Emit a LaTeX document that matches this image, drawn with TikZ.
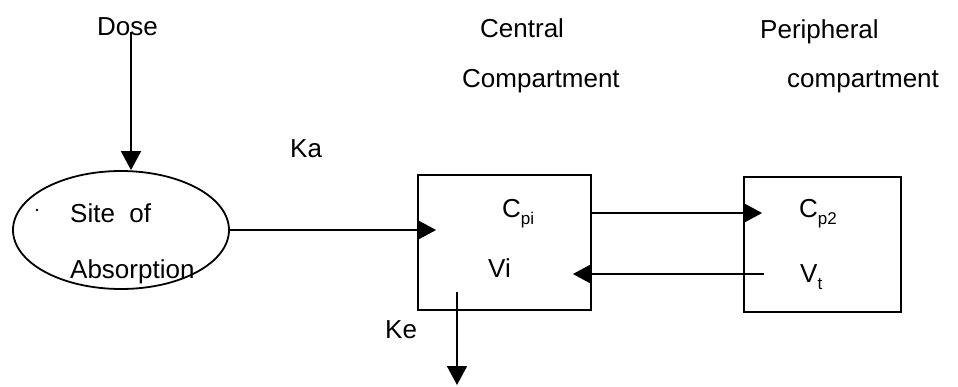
\documentclass[tikz,border=0pt]{standalone}
\usepackage{fontspec}
\setmainfont{Liberation Sans}
\usetikzlibrary{arrows.meta,shapes.geometric}
\newcommand{\lbl}{\fontsize{26}{30}\selectfont}
\newcommand{\sub}[1]{\raisebox{-7pt}{\fontsize{17}{20}\selectfont #1}}
\begin{document}
\begin{tikzpicture}[x=1pt,y=-1pt,
  txt/.style={anchor=base west,inner sep=0pt,font=\lbl},
  comp/.style={draw,line width=1.8pt,minimum width=#1},
  flow/.style={line width=1.8pt,-{Triangle[length=19pt,width=20pt]}}]
\useasboundingbox (0,0) rectangle (958,386);

% headings
\node[txt] (dose) at (97,35) {Dose};
\node[txt] (cen1) at (480,37) {Central};
\node[txt] (cen2) at (462,87) {Compartment};
\node[txt] (per1) at (760,38) {Peripheral};
\node[txt] (per2) at (787,87) {compartment};

% absorption site
\node[draw,ellipse,line width=1.8pt,minimum width=216pt,minimum height=118pt,inner sep=0pt] (abs) at (121,230) {};
\node[txt] (site) at (70,222) {Site\ \ of};
\node[txt] (absn) at (70,278) {Absorption};
\fill (37,210) circle (1.3pt);

% compartments
\node[comp=173pt,minimum height=135pt,inner sep=0pt] (central) at (504.5,242.5) {};
\node[comp=157pt,minimum height=135pt,inner sep=0pt] (periph) at (822.5,244.5) {};
\node[txt] (cpi) at (502,217) {C\sub{pi}};
\node[txt] (vi) at (488,277) {Vi};
\node[txt] (cp2) at (799,217) {C\sub{p2}};
\node[txt] (vt) at (800,282) {V\sub{t}};

% rate constants
\node[txt] (ka) at (290,157) {Ka};
\node[txt] (ke) at (385,338) {Ke};

% connectors (yshift is in page units: positive moves up)
\coordinate (doseTop) at (131,32);
\coordinate (keTop) at (457,292);
\coordinate (keEnd) at (457,385);
\draw[flow] (doseTop) -- (doseTop |- abs.north);
\draw[flow,shorten >=-19pt] (abs.east) -- (abs.east -| central.west);
\draw[flow,shorten >=-19pt] ([yshift=29.5pt]central.east) -- ([yshift=29.5pt]central.east -| periph.west);
\draw[flow,shorten <=-21pt,shorten >=-19pt] ([yshift=-29.5pt]periph.west) -- ([yshift=-29.5pt]periph.west -| central.east);
\draw[flow] (keTop) -- (keEnd);
\end{tikzpicture}
\end{document}
